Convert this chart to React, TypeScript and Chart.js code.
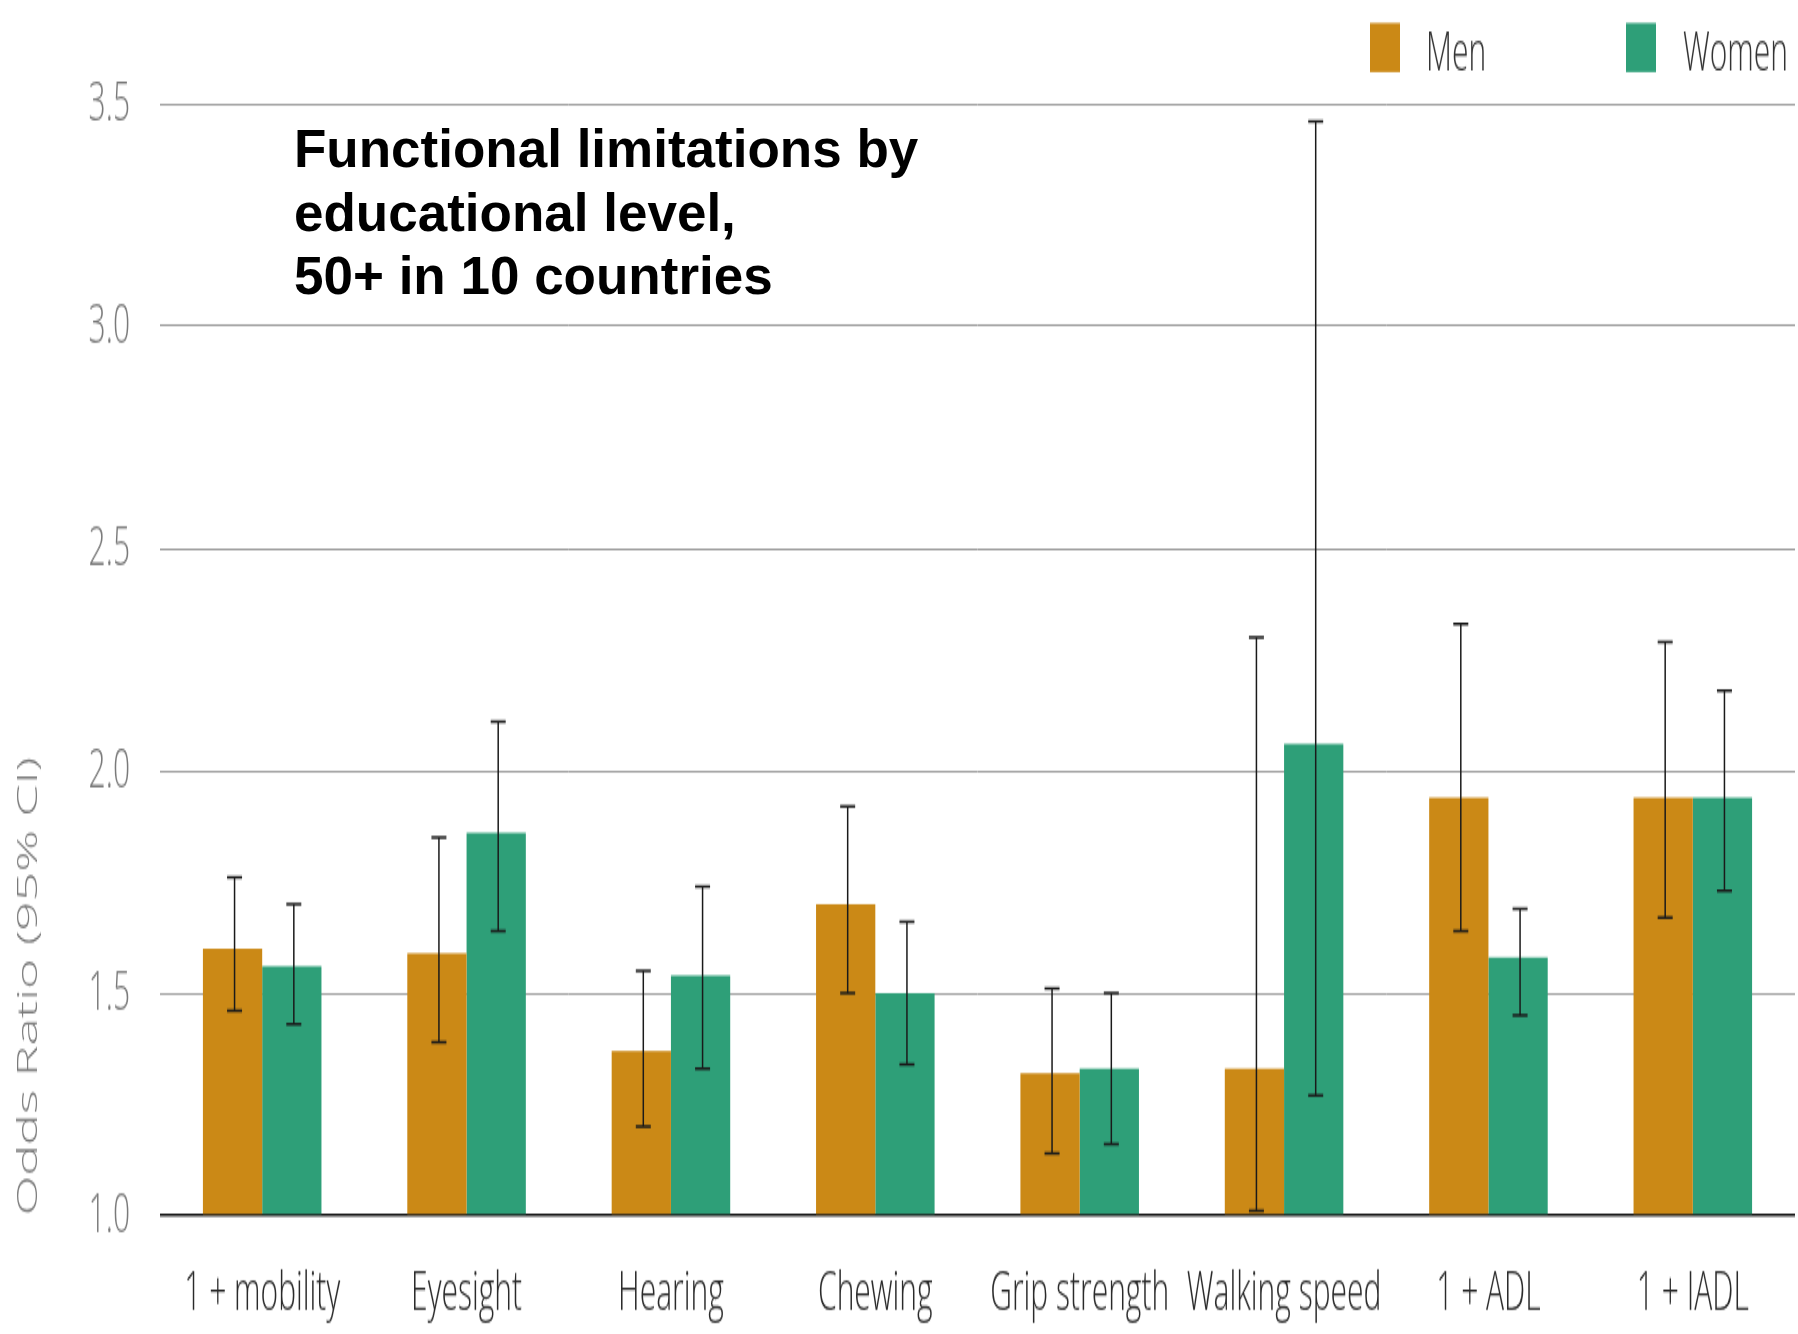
import React, { useEffect, useRef } from 'react';
import { Chart, registerables } from 'chart.js';

Chart.register(...registerables);

// ---- data ----
const categories = ['1 + mobility', 'Eyesight', 'Hearing', 'Chewing', 'Grip strength', 'Walking speed', '1 + ADL', '1 + IADL'];
const menOR = [1.60, 1.59, 1.37, 1.70, 1.32, 1.33, 1.94, 1.94];
const menLow = [1.46, 1.39, 1.20, 1.50, 1.14, 1.01, 1.64, 1.67];
const menHigh = [1.76, 1.85, 1.55, 1.92, 1.51, 2.30, 2.33, 2.29];
const womenOR = [1.56, 1.86, 1.54, 1.50, 1.33, 2.06, 1.58, 1.94];
const womenLow = [1.43, 1.64, 1.33, 1.34, 1.16, 1.27, 1.45, 1.73];
const womenHigh = [1.70, 2.11, 1.74, 1.66, 1.50, 3.46, 1.69, 2.18];
const yTickValues = [1.0, 1.5, 2.0, 2.5, 3.0, 3.5];
const seriesLabels = ['Men', 'Women'];
const seriesColors = ['#CB8916', '#2E9F78'];
const titleLines = ['Functional limitations by', 'educational level,', '50+ in 10 countries'];
const yAxisTitle = 'Odds Ratio (95% CI)';

// ---- geometry ----
const VIEW_W = 1798;
const VIEW_H = 1334;
const BACK_H = 720; // canvas is drawn at this height and stretched vertically to VIEW_H
const LIGHT_FONT = "'Open Sans', Lato, Roboto, sans-serif";

const errorBarPlugin = {
  id: 'errorBars',
  afterDatasetsDraw(chart: any, _args: any, opts: any) {
    const ctx = chart.ctx;
    const yScale = chart.scales.y;
    chart.data.datasets.forEach((_ds: any, di: number) => {
      const meta = chart.getDatasetMeta(di);
      const lows = opts.low[di];
      const highs = opts.high[di];
      meta.data.forEach((bar: any, i: number) => {
        const x = bar.x + 2;
        const yl = yScale.getPixelForValue(lows[i]);
        const yh = yScale.getPixelForValue(highs[i]);
        ctx.save();
        ctx.strokeStyle = '#1a1a1a';
        ctx.lineWidth = 1.5;
        ctx.beginPath();
        ctx.moveTo(x, yl);
        ctx.lineTo(x, yh);
        ctx.stroke();
        ctx.lineWidth = 1.5;
        ctx.beginPath();
        ctx.moveTo(x - 7.5, yl);
        ctx.lineTo(x + 7.5, yl);
        ctx.moveTo(x - 7.5, yh);
        ctx.lineTo(x + 7.5, yh);
        ctx.stroke();
        ctx.restore();
      });
    });
  },
};

const cornerLegendPlugin = {
  id: 'cornerLegend',
  afterDraw(chart: any, _args: any, opts: any) {
    const ctx = chart.ctx;
    const right = chart.chartArea.right;
    chart.data.datasets.forEach((ds: any, i: number) => {
      const it = opts.items[i];
      ctx.save();
      ctx.fillStyle = ds.backgroundColor;
      ctx.fillRect(right + it.boxX, opts.boxTop, opts.boxW, opts.boxH);
      ctx.font = `300 ${opts.fontSize}px ${LIGHT_FONT}`;
      ctx.fillStyle = opts.color;
      ctx.textBaseline = 'alphabetic';
      ctx.textAlign = 'left';
      ctx.fillText(ds.label, right + it.textX, opts.baseline);
      ctx.restore();
    });
  },
};

export default function App() {
  const canvasRef = useRef<HTMLCanvasElement | null>(null);

  useEffect(() => {
    const canvas = canvasRef.current;
    if (!canvas) return;
    const chart = new Chart(canvas, {
      type: 'bar',
      data: {
        labels: categories,
        datasets: [
          {
            label: seriesLabels[0],
            data: menOR,
            backgroundColor: seriesColors[0],
            borderWidth: 0,
            base: 1,
            barPercentage: 1,
            categoryPercentage: 0.58,
          },
          {
            label: seriesLabels[1],
            data: womenOR,
            backgroundColor: seriesColors[1],
            borderWidth: 0,
            base: 1,
            barPercentage: 1,
            categoryPercentage: 0.58,
          },
        ],
      },
      options: {
        responsive: false,
        maintainAspectRatio: false,
        animation: false,
        devicePixelRatio: 1,
        layout: { padding: { top: 56, right: 3, bottom: 0, left: 0 } },
        plugins: {
          legend: { display: false },
          tooltip: { enabled: false },
          title: { display: false },
          errorBars: { low: [menLow, womenLow], high: [menHigh, womenHigh] },
          cornerLegend: {
            items: [
              { boxX: -425, textX: -369 },
              { boxX: -169, textX: -112 },
            ],
            boxTop: 12.4,
            boxW: 30,
            boxH: 26.5,
            baseline: 38.3,
            fontSize: 30,
            color: '#333333',
          },
        } as any,
        scales: {
          x: {
            grid: { display: false, drawTicks: false },
            border: { display: false },
            ticks: {
              color: '#2a2a2a',
              padding: 24,
              font: { family: LIGHT_FONT, size: 30, weight: '300' as any },
              maxRotation: 0,
              autoSkip: false,
            },
            afterFit: (s: any) => {
              s.height = 64;
            },
          },
          y: {
            min: 1,
            max: 3.5,
            afterBuildTicks: (s: any) => {
              s.ticks = yTickValues.map((v) => ({ value: v }));
            },
            afterFit: (s: any) => {
              s.width = 160;
            },
            grid: {
              drawTicks: false,
              color: (c: any) => (c.tick && c.tick.value === 1 ? '#1e1e1e' : '#9c9c9c'),
              lineWidth: (c: any) => (c.tick && c.tick.value === 1 ? 1.6 : 1),
            },
            border: { display: false },
            ticks: {
              color: '#7a7a7a',
              padding: 30,
              font: { family: LIGHT_FONT, size: 30, weight: '300' as any },
              callback: (v: any) => Number(v).toFixed(1),
            },
            title: {
              display: true,
              text: yAxisTitle,
              align: 'start',
              color: '#7a7a7a',
              padding: { top: 12, bottom: 0 },
              font: { family: LIGHT_FONT, size: 28, weight: '300' as any },
            },
          },
        },
      },
      plugins: [errorBarPlugin, cornerLegendPlugin],
    });
    return () => {
      chart.destroy();
    };
  }, []);

  return (
    <div style={{ position: 'absolute', left: 0, top: 0, width: VIEW_W, height: VIEW_H, overflow: 'hidden', background: '#ffffff' }}>
      <canvas
        ref={canvasRef}
        width={VIEW_W}
        height={BACK_H}
        style={{ width: `${VIEW_W}px`, height: `${VIEW_H}px`, display: 'block' }}
      />
      <div
        style={{
          position: 'absolute',
          left: 294,
          top: 117,
          fontFamily: "'Liberation Sans', Arial, sans-serif",
          fontWeight: 'bold',
          fontSize: 53,
          lineHeight: '63.6px',
          color: '#000000',
          whiteSpace: 'nowrap',
        }}
      >
        {titleLines.map((t, i) => (
          <div key={i}>{t}</div>
        ))}
      </div>
    </div>
  );
}
